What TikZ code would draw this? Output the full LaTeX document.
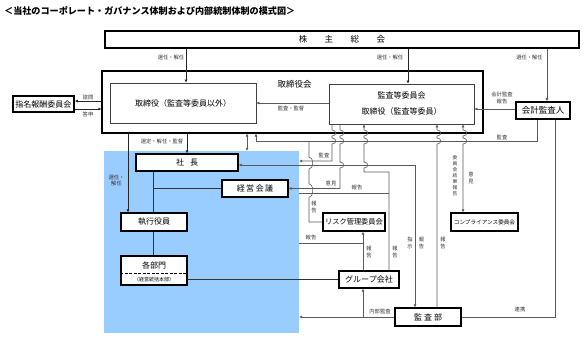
\documentclass[tikz,border=0pt]{standalone}
\usepackage{fontspec}
\setmainfont{Noto Sans CJK JP}
\usetikzlibrary{arrows.meta}
\definecolor{execblue}{HTML}{99CCFF}
\definecolor{lncol}{HTML}{5A5A5A}
\begin{document}
\begin{tikzpicture}[x=1pt,y=-1pt,
  box/.style={draw=black, fill=white, line width=1.2pt, inner sep=0pt, font=\fontsize{8}{9}\selectfont, align=center},
  thinbox/.style={draw=black!75, fill=white, line width=0.8pt, inner sep=0pt, font=\fontsize{8}{16}\selectfont, align=center},
  lbl/.style={inner sep=0pt, font=\fontsize{5.3}{6.1}\selectfont, text=black!80, align=center},
  ln/.style={draw=lncol, line width=0.6pt},
  org/.style={draw=black!80, line width=0.7pt},
  arr/.style={ln, -{Latex[length=3pt,width=3pt]}},
  barr/.style={ln, {Latex[length=3pt,width=3pt]}-{Latex[length=3pt,width=3pt]}},
  jmp/.style n args={3}{insert path={-- (#1,#2) .. controls (#1+5,#2) and (#1+5,#3) .. (#1,#3)}}
]
\useasboundingbox (0,0) rectangle (587,337);

% title
\node[anchor=west, inner sep=0pt, font=\fontsize{9.1}{10}\selectfont\bfseries] (title) at (4,11)
  {＜当社のコーポレート・ガバナンス体制および内部統制体制の模式図＞};

% executive area
\node[fill=execblue, inner sep=0pt, minimum width=195pt, minimum height=182pt] (exec) at (201.5,242) {};

% boxes
\node[box, line width=1.7pt, minimum width=474pt, minimum height=17pt, font=\fontsize{8.5}{9}\selectfont] (kabu) at (342,39.5)
  {株\hspace{17.5pt}主\hspace{17.5pt}総\hspace{17.5pt}会};
\node[box, line width=1.1pt, minimum width=381pt, minimum height=62pt] (torikai) at (292.5,102) {};
\node[inner sep=0pt, font=\fontsize{8.5}{9}\selectfont] (torikailbl) at (294.5,84) {取締役会};
\node[thinbox, minimum width=146pt, minimum height=40pt] (torislf) at (183,103) {取締役（監査等委員以外）};
\node[thinbox, minimum width=145pt, minimum height=40pt] (kansaiin) at (401.5,104) {監査等委員会\\取締役（監査等委員）};
\node[box, line width=1.5pt, minimum width=54pt, minimum height=17pt, font=\fontsize{8.5}{9}\selectfont] (kaikei) at (543,110.5) {会計監査人};
\node[box, line width=1.5pt, minimum width=61pt, minimum height=16pt] (shimei) at (43.5,104) {指名報酬委員会};
\node[box, minimum width=102pt, minimum height=17pt] (shacho) at (187,162.5) {社\hspace{6pt}長};
\node[box, minimum width=66pt, minimum height=17pt] (keiei) at (255,188.5) {経\hspace{1.5pt}営\hspace{1.5pt}会\hspace{1.5pt}議};
\node[box, minimum width=66pt, minimum height=18pt] (shikko) at (154,222) {執行役員};
\node[box, minimum width=66pt, minimum height=29pt] (kakubu) at (154,270.5) {};
\node[inner sep=0pt, font=\fontsize{8}{9}\selectfont] (kakubu1) at (154,265) {各部門};
\node[inner sep=0pt, font=\fontsize{5}{6}\selectfont] (kakubu2) at (154,279.5) {（経営統括本部）};
\draw[line width=1pt, dash pattern=on 3pt off 1.5pt] (kakubu.west |- 0,273) -- (kakubu.east |- 0,273);
\node[box, minimum width=62pt, minimum height=18pt, font=\fontsize{7.2}{8}\selectfont] (risk) at (354,222) {リスク管理委員会};
\node[box, minimum width=67pt, minimum height=18pt, font=\fontsize{5.6}{6}\selectfont] (comp) at (484.5,222) {コンプライアンス委員会};
\node[box, minimum width=60pt, minimum height=17pt] (group) at (369,279.5) {グループ会社};
\node[box, minimum width=66pt, minimum height=18pt] (kansabu) at (428,317) {監\hspace{2pt}査\hspace{2pt}部};

% shareholders
\draw[arr, draw=black!85] (kabu.south -| 186,0) -- (torislf.north -| 186,0);
\node[lbl] at (171,57) {選任・解任};
\draw[arr, draw=black!85] (kabu.south -| 408,0) -- (kansaiin.north -| 408,0);
\node[lbl] at (390,57) {選任・解任};
\draw[arr] (kabu.south -| 547,0) -- (kaikei.north -| 547,0);
\node[lbl] at (529.5,57) {選任・解任};

% nomination committee
\draw[arr, draw=black!85] (torikai.west |- 0,101) -- (shimei.east |- 0,101);
\node[lbl] at (88,97) {諮問};
\draw[arr, draw=black!85] (shimei.east |- 0,109) -- (torikai.west |- 0,109);
\node[lbl] at (88,114) {答申};

% inside board
\draw[arr] (kansaiin.west |- 0,103) -- (torislf.east |- 0,103);
\node[lbl] at (291,108) {監査・監督};
\draw[arr] (kaikei.west |- 0,109) -- (kansaiin.east |- 0,109);
\node[lbl] at (502,98) {会計監査\\報告};

% board -> execution
\draw[arr, draw=black!85] (torikai.south -| 187,0) -- (shacho.north -| 187,0);
\node[lbl] at (162,141) {選定・解任・監督};
\draw[arr, draw=black!85] (torikai.south -| 128,0) -- (shikko.north -| 128,0);
\node[lbl] at (116.5,180.5) {選任・\\解任};
\draw[barr] (torikai.south -| 247,0) -- (exec.north -| 247,0);

% organisation lines
\draw[org] (shacho.south -| 153,0) -- (shikko.north -| 153,0);
\draw[org] (shikko.south -| 153,0) -- (kakubu.north -| 153,0);
\draw[org] (153,188.5) -- (keiei.west);
\draw[org] (kakubu.east |- 0,279) -- (group.west |- 0,279);

% accounting auditor audit
\draw[arr] (kaikei.south -| 537,0) -- (537,141) -- (256,141) -- (torikai.south -| 256,0);
\node[lbl] at (502,137) {監査};

% audit committee: audit
\draw[arr] (kansaiin.south -| 332,0) [jmp={332}{130}{136}] [jmp={332}{138}{144}] -- (332,161) -- (exec.east |- 0,161);
\node[lbl] at (324,155.5) {監査};

% audit committee: opinion to management meeting
\draw[arr] (kansaiin.south -| 340,0) [jmp={340}{130}{136}] [jmp={340}{138}{144}] [jmp={340}{162}{168}] -- (340,188.5) -- (keiei.east);
\node[lbl] at (331,183) {意見};

% president <-> internal audit
\draw[barr] (shacho.east |- 0,165) -- (415,165) -- (kansabu.north -| 415,0);
\node[lbl] at (410,243) {指\\示};
\node[lbl] at (421.5,243) {報\\告};

% group companies -> audit committee
\draw[arr] (group.north -| 389,0) -- (389,172) -- (364,172) [jmp={364}{168}{162}] [jmp={364}{144}{138}] [jmp={364}{136}{130}] -- (kansaiin.south -| 364,0);
\node[lbl] at (395,252) {報\\告};
\draw[ln] (exec.east |- 0,193) -- (389,193);
\node[lbl] at (357,187.5) {報告};

% risk committee report
\draw[ln] (risk.west) -- (309,222) [jmp={309}{197}{184}] [jmp={309}{169}{157}] -- (309,141);
\node[lbl] at (314,207) {報\\告};

% group / departments -> risk committee
\draw[arr] (group.north -| 363,0) -- (risk.south -| 363,0);
\node[lbl] at (369,252) {報\\告};
\draw[ln] (exec.east |- 0,243) -- (363,243);
\node[lbl] at (311,237.5) {報告};

% internal audit
\draw[arr] (kansabu.west |- 0,317) -- (exec.east |- 0,317);
\draw[arr] (363,317) -- (group.south -| 363,0);
\node[lbl] at (380,311) {内部監査};

% internal audit -> audit committee
\draw[arr] (kansabu.north -| 437,0) -- (437,144) [jmp={437}{144}{138}] [jmp={437}{136}{130}] -- (kansaiin.south -| 437,0);
\node[lbl] at (443,243) {報\\告};

% compliance committee
\draw[barr] (kansaiin.south -| 463,0) [jmp={463}{130}{136}] [jmp={463}{138}{144}] -- (comp.north -| 463,0);
\node[lbl, font=\fontsize{4.8}{6}\selectfont] at (455,176) {委\\員\\会\\結\\果\\報\\告};
\node[lbl] at (471,178) {意\\見};

% cooperation
\draw[ln] (kansabu.east |- 0,317) -- (555,317) -- (kaikei.south -| 555,0);
\node[lbl] at (520,309) {連携};
\end{tikzpicture}
\end{document}
